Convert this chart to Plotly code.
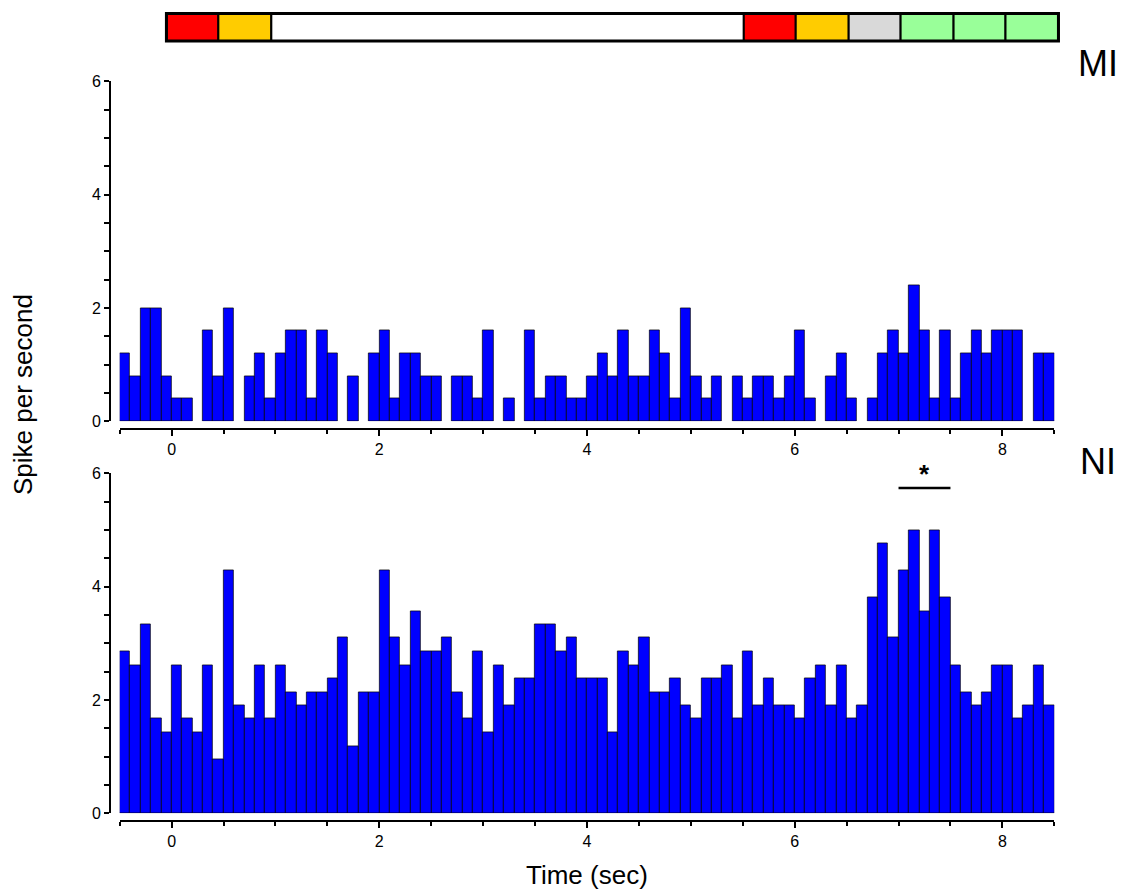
import plotly.graph_objects as go

# Peri-stimulus time histograms, 0.1 s bins from -0.5 s to 8.5 s
BIN_START = -0.5
BIN_WIDTH = 0.1

# Firing rate (spikes/s) per bin, MI neuron
mi_rate = [
    1.2, 0.8, 2.0, 2.0, 0.8, 0.4, 0.4, 0.0, 1.6, 0.8,
    2.0, 0.0, 0.8, 1.2, 0.4, 1.2, 1.6, 1.6, 0.4, 1.6,
    1.2, 0.0, 0.8, 0.0, 1.2, 1.6, 0.4, 1.2, 1.2, 0.8,
    0.8, 0.0, 0.8, 0.8, 0.4, 1.6, 0.0, 0.4, 0.0, 1.6,
    0.4, 0.8, 0.8, 0.4, 0.4, 0.8, 1.2, 0.8, 1.6, 0.8,
    0.8, 1.6, 1.2, 0.4, 2.0, 0.8, 0.4, 0.8, 0.0, 0.8,
    0.4, 0.8, 0.8, 0.4, 0.8, 1.6, 0.4, 0.0, 0.8, 1.2,
    0.4, 0.0, 0.4, 1.2, 1.6, 1.2, 2.4, 1.6, 0.4, 1.6,
    0.4, 1.2, 1.6, 1.2, 1.6, 1.6, 1.6, 0.0, 1.2, 1.2,
]

# Firing rate (spikes/s) per bin, NI neuron
ni_rate = [
    2.86, 2.62, 3.33, 1.67, 1.43, 2.62, 1.67, 1.43, 2.62, 0.95,
    4.29, 1.90, 1.67, 2.62, 1.67, 2.62, 2.14, 1.90, 2.14, 2.14,
    2.38, 3.10, 1.19, 2.14, 2.14, 4.29, 3.10, 2.62, 3.57, 2.86,
    2.86, 3.10, 2.14, 1.67, 2.86, 1.43, 2.62, 1.90, 2.38, 2.38,
    3.33, 3.33, 2.86, 3.10, 2.38, 2.38, 2.38, 1.43, 2.86, 2.62,
    3.10, 2.14, 2.14, 2.38, 1.90, 1.67, 2.38, 2.38, 2.62, 1.67,
    2.86, 1.90, 2.38, 1.90, 1.90, 1.67, 2.38, 2.62, 1.90, 2.62,
    1.67, 1.90, 3.81, 4.76, 3.10, 4.29, 5.00, 3.57, 5.00, 3.81,
    2.62, 2.14, 1.90, 2.14, 2.62, 2.62, 1.67, 1.90, 2.62, 1.90,
]

# Task epochs shown in the strip above the histograms (edges in s)
epoch_edges = [-0.05, 0.45, 0.96, 5.51, 6.01, 6.52, 7.02, 7.53, 8.03, 8.54]
epoch_colors = ["#FF0000", "#FFCC00", "#FFFFFF", "#FF0000", "#FFCC00",
                "#D9D9D9", "#99FF99", "#99FF99", "#99FF99"]

# Window with a significant response in NI
sig_window = [7.0, 7.5]
sig_level = 5.74

panel_labels = ["MI", "NI"]

bin_centers = [round(BIN_START + BIN_WIDTH * (i + 0.5), 3) for i in range(len(mi_rate))]

W, H = 1125, 892
FONT = "Arial, Liberation Sans, sans-serif"
X_RANGE = [-0.5, 8.5]


def px_x(p):
    return p / W


def px_y(p):
    return (H - p) / H


X_DOMAIN = [px_x(119.7), px_x(1054.3)]


def time_to_paper(t):
    # place a time value on the paper using the histogram x-axis scale
    frac = (t - X_RANGE[0]) / (X_RANGE[1] - X_RANGE[0])
    return X_DOMAIN[0] + frac * (X_DOMAIN[1] - X_DOMAIN[0])


fig = go.Figure()

bar_style = dict(
    marker=dict(color="#0000FF", line=dict(color="#000000", width=0.7)),
    width=BIN_WIDTH,
    showlegend=False,
    hoverinfo="x+y",
)

fig.add_trace(go.Bar(x=bin_centers, y=[v if v > 0 else None for v in mi_rate],
                     xaxis="x", yaxis="y", **bar_style))
fig.add_trace(go.Bar(x=bin_centers, y=[v if v > 0 else None for v in ni_rate],
                     xaxis="x2", yaxis="y2", **bar_style))

tick_font = dict(family=FONT, size=16, color="#000000")

xcommon = dict(
    domain=X_DOMAIN, range=X_RANGE, anchor="free", automargin=False,
    showline=True, linecolor="#000000", linewidth=2,
    ticks="outside", ticklen=6, tickwidth=1.5, tickcolor="#000000",
    tick0=0, dtick=2, tickfont=tick_font,
    minor=dict(ticks="outside", dtick=0.5, tick0=0, ticklen=4,
               tickwidth=1.5, tickcolor="#000000", showgrid=False),
    showgrid=False, zeroline=False,
)
ycommon = dict(
    range=[0, 6], anchor="free", position=px_x(110), automargin=False,
    showline=True, linecolor="#000000", linewidth=2,
    ticks="outside", ticklen=5, tickwidth=1.5, tickcolor="#000000",
    tick0=0, dtick=2, tickfont=tick_font,
    minor=dict(ticks="outside", dtick=0.5, tick0=0, ticklen=5,
               tickwidth=1.5, tickcolor="#000000", showgrid=False),
    showgrid=False, zeroline=False,
)

fig.update_layout(
    width=W, height=H,
    margin=dict(l=0, r=0, t=0, b=0, autoexpand=False),
    paper_bgcolor="#FFFFFF", plot_bgcolor="rgba(0,0,0,0)",
    bargap=0,
    font=dict(family=FONT, color="#000000"),
    xaxis=dict(position=px_y(428.5), **xcommon),
    yaxis=dict(domain=[px_y(421.3), px_y(81.3)], **ycommon),
    xaxis2=dict(position=px_y(821), **xcommon),
    yaxis2=dict(domain=[px_y(813.3), px_y(473.3)], **ycommon),
)

# Epoch strip
shapes = []
for i, col in enumerate(epoch_colors):
    shapes.append(dict(type="rect", xref="paper", yref="paper",
                       x0=time_to_paper(epoch_edges[i]), x1=time_to_paper(epoch_edges[i + 1]),
                       y0=px_y(41), y1=px_y(13.5),
                       fillcolor=col, line=dict(color="#000000", width=2)))
shapes.append(dict(type="rect", xref="paper", yref="paper",
                   x0=time_to_paper(epoch_edges[0]), x1=time_to_paper(epoch_edges[-1]),
                   y0=px_y(41), y1=px_y(13.5),
                   fillcolor="rgba(0,0,0,0)", line=dict(color="#000000", width=3)))

# Significance bar over the NI response
shapes.append(dict(type="line", xref="x2", yref="y2",
                   x0=sig_window[0], x1=sig_window[1], y0=sig_level, y1=sig_level,
                   line=dict(color="#000000", width=2.5)))
fig.update_layout(shapes=shapes)

annotations = [
    dict(text="Spike per second", xref="paper", yref="paper",
         x=px_x(23), y=px_y(395), textangle=-90, showarrow=False,
         xanchor="center", yanchor="middle",
         font=dict(family=FONT, size=26, color="#000000")),
    dict(text="Time (sec)", xref="paper", yref="paper",
         x=time_to_paper(4.0), y=px_y(875), showarrow=False,
         xanchor="center", yanchor="middle",
         font=dict(family=FONT, size=26, color="#000000")),
    dict(text=panel_labels[0], xref="paper", yref="paper",
         x=px_x(1098), y=px_y(63), showarrow=False,
         xanchor="center", yanchor="middle",
         font=dict(family=FONT, size=36, color="#000000")),
    dict(text=panel_labels[1], xref="paper", yref="paper",
         x=px_x(1098), y=px_y(461), showarrow=False,
         xanchor="center", yanchor="middle",
         font=dict(family=FONT, size=36, color="#000000")),
    dict(text="<b>*</b>", xref="x2", yref="paper",
         x=(sig_window[0] + sig_window[1]) / 2, y=px_y(474), showarrow=False,
         xanchor="center", yanchor="middle",
         font=dict(family=FONT, size=26, color="#000000")),
]
fig.update_layout(annotations=annotations)

fig.write_html("out.html")
